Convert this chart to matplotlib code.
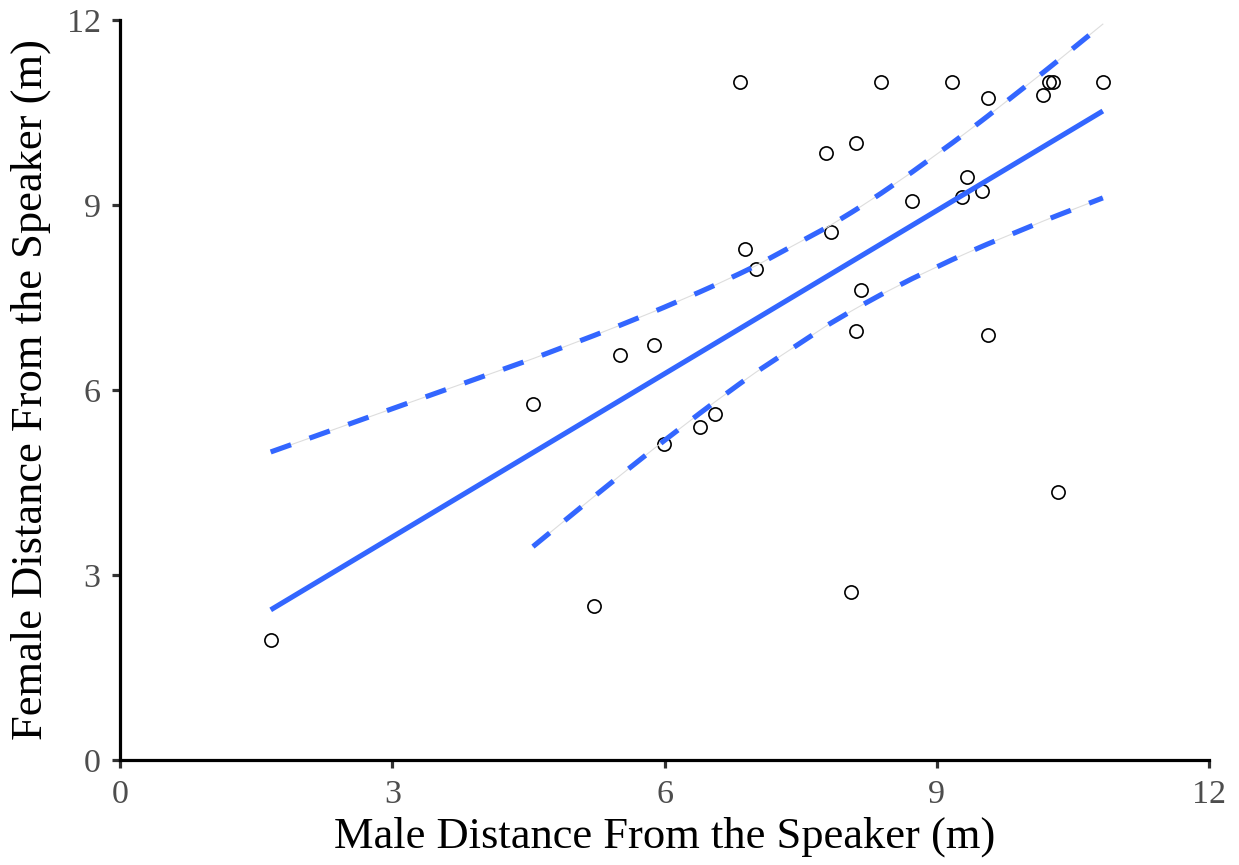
"""Scatter of male vs female distance from the speaker with an OLS fit
and its 95% confidence limits (drawn through the observed x values)."""

import matplotlib
matplotlib.use("Agg")
import matplotlib.pyplot as plt
import numpy as np


male_dist = [1.66, 4.55, 5.22, 5.51, 5.88, 5.99, 6.39, 6.56, 6.83, 6.89,
             7.01, 7.78, 7.83, 8.11, 8.06, 8.11, 8.17, 8.39, 8.73, 9.17,
             9.28, 9.33, 9.50, 9.56, 9.56, 10.17, 10.24, 10.28, 10.34, 10.83]
female_dist = [1.95, 5.77, 2.50, 6.57, 6.73, 5.12, 5.40, 5.61, 11.0, 8.29,
               7.96, 9.84, 8.56, 10.0, 2.72, 6.96, 7.62, 11.0, 9.06, 11.0,
               9.13, 9.45, 9.23, 10.73, 6.89, 10.79, 11.0, 11.0, 4.35, 11.0]
ticks = [0, 3, 6, 9, 12]

BLUE = "#3366FF"
plt.rcParams["font.family"] = ["Liberation Serif", "DejaVu Serif"]


def ols_with_ci(x: np.ndarray, y: np.ndarray, t_crit: float = 2.048):
    """Fitted line and 95% CI of the mean at each (sorted) x."""
    n = len(x)
    slope, intercept = np.polyfit(x, y, 1)
    resid = y - (intercept + slope * x)
    s = np.sqrt(np.sum(resid ** 2) / (n - 2))
    xs = np.sort(x)
    fit = intercept + slope * xs
    se = s * np.sqrt(1 / n + (xs - x.mean()) ** 2 / np.sum((x - x.mean()) ** 2))
    return xs, fit, fit - t_crit * se, fit + t_crit * se


def main() -> None:
    x = np.array(male_dist)
    y = np.array(female_dist)
    xs, fit, lo, hi = ols_with_ci(x, y)
    # values outside the y scale are dropped, as ggplot does
    lo = np.where((lo < 0) | (lo > 12), np.nan, lo)
    hi = np.where((hi < 0) | (hi > 12), np.nan, hi)

    fig = plt.figure(figsize=(12.39, 8.65), dpi=100)
    ax = fig.add_axes([0.0969, 0.1214, 0.8789, 0.8555])

    ax.plot(x, y, "o", ms=9.5, mfc="none", mec="black", mew=1.2, zorder=2)
    ax.plot(xs, fit, color=BLUE, lw=3.7, solid_capstyle="butt", zorder=3)
    for band in (lo, hi):
        ax.plot(xs, band, color="#dddddd", lw=0.8, zorder=3)
        line, = ax.plot(xs, band, color=BLUE, lw=3.7, dash_capstyle="butt",
                        zorder=4)
        line.set_dashes([4.2, 3.8])

    ax.set_xlim(0, 12)
    ax.set_ylim(0, 12)
    ax.set_xticks(ticks)
    ax.set_yticks(ticks)
    for side in ("top", "right"):
        ax.spines[side].set_visible(False)
    for side in ("left", "bottom"):
        ax.spines[side].set_linewidth(2.3)
        ax.spines[side].set_color("black")
    ax.tick_params(length=6, width=2.3, color="#333333", labelsize=24.5,
                   labelcolor="#4d4d4d", pad=8)
    ax.set_xlabel("Male Distance From the Speaker (m)", fontsize=32,
                  labelpad=5)
    ax.set_ylabel("Female Distance From the Speaker (m)", fontsize=32,
                  labelpad=11)

    fig.savefig("out.png", dpi=100)
    plt.close(fig)


if __name__ == "__main__":
    main()
